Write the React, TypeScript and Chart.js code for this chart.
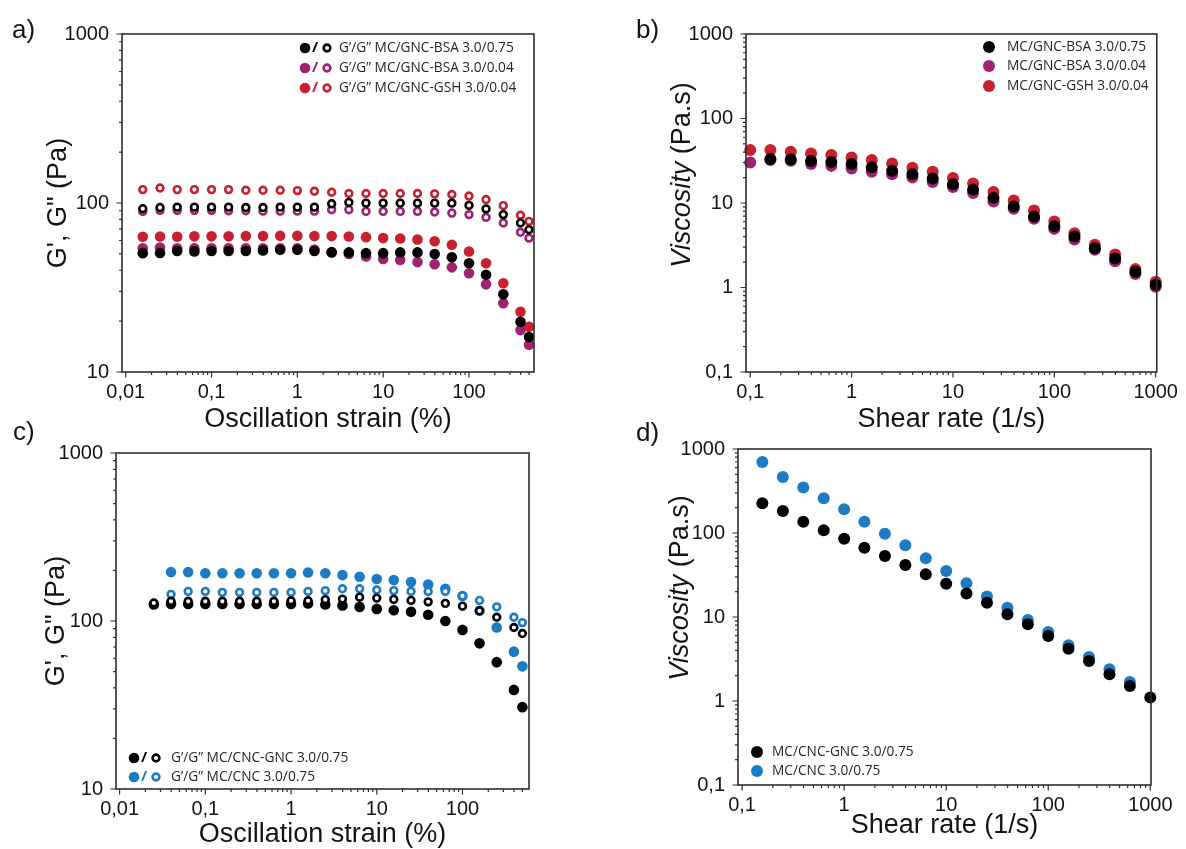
import React, { useEffect, useRef } from "react";
import { Chart, registerables } from "chart.js";
Chart.register(...registerables);

// ---------------- data ----------------
// a) amplitude sweeps, MC/GNC
const strainA = [0.0158, 0.0251, 0.0398, 0.0631, 0.1, 0.158, 0.251, 0.398, 0.631, 1, 1.58, 2.51, 3.98, 6.31, 10, 15.8, 25.1, 39.8, 63.1, 100, 158, 251, 398, 500];
const gPrimeA_BSA075 = [50.5, 50.6, 52.0, 51.7, 52.0, 52.0, 52.0, 52.3, 52.9, 52.9, 52.0, 51.2, 51.0, 50.5, 50.5, 51.0, 51.0, 49.9, 47.8, 44.0, 37.6, 28.8, 19.8, 16.1];
const gPrimeA_BSA004 = [54.0, 54.5, 54.0, 54.0, 54.0, 54.0, 54.0, 54.0, 54.0, 54.0, 53.0, 51.0, 49.9, 48.2, 46.7, 46.0, 44.7, 43.4, 41.6, 38.4, 33.0, 25.5, 17.7, 14.5];
const gPrimeA_GSH004 = [63.1, 63.4, 63.1, 63.5, 63.5, 63.5, 63.7, 63.7, 63.9, 63.9, 63.7, 63.7, 63.3, 62.8, 62.0, 61.6, 60.8, 59.4, 56.6, 51.6, 44.0, 33.5, 22.7, 18.5];
const gDoubleA_BSA075 = [92.5, 94.0, 94.5, 94.5, 94.5, 94.5, 94.0, 94.0, 94.5, 94.5, 94.5, 98.9, 100.8, 99.8, 99.8, 99.8, 99.8, 99.8, 99.8, 96.8, 92.3, 85.4, 76.2, 69.5];
const gDoubleA_BSA004 = [89.2, 90.5, 90.5, 90.5, 90.5, 90.0, 90.0, 89.5, 89.5, 89.5, 89.5, 91.3, 91.3, 89.2, 89.2, 89.2, 89.2, 88.4, 87.2, 85.4, 82.2, 76.2, 67.1, 62.0];
const gDoubleA_GSH004 = [120, 122.6, 120, 120, 120, 120, 118.9, 118.9, 118.9, 118.4, 117.3, 115.8, 113.8, 113.8, 113.8, 113.8, 113.8, 113.3, 112.3, 109.9, 104.8, 96.4, 84.6, 77.8];

// b) flow curves, MC/GNC
const shearB = [0.1, 0.158, 0.251, 0.398, 0.631, 1, 1.58, 2.51, 3.98, 6.31, 10, 15.8, 25.1, 39.8, 63.1, 100, 158, 251, 398, 631, 1000];
const viscB_BSA075 = [null, 33.1, 32.8, 31.4, 30.5, 28.9, 26.4, 24.0, 21.9, 19.5, 16.7, 14.4, 11.5, 9.12, 6.93, 5.32, 4.01, 2.91, 2.21, 1.54, 1.08];
const viscB_BSA004 = [30.2, 32.2, 31.6, 28.9, 27.5, 25.6, 23.4, 21.9, 20.0, 17.7, 15.5, 13.1, 10.4, 8.56, 6.5, 4.94, 3.7, 2.8, 2.04, 1.44, 1.02];
const viscB_GSH004 = [42.4, 42.4, 40.4, 38.6, 36.9, 34.6, 32.2, 29.4, 26.1, 23.4, 19.8, 17.0, 13.5, 10.7, 8.17, 6.05, 4.39, 3.2, 2.45, 1.65, 1.17];

// c) amplitude sweeps, MC/CNC
const strainC = [0.0251, 0.0398, 0.0631, 0.1, 0.158, 0.251, 0.398, 0.631, 1, 1.58, 2.51, 3.98, 6.31, 10, 15.8, 25.1, 39.8, 63.1, 100, 158, 251, 398, 500];
const gPrimeC_CNCGNC = [125.3, 126.4, 126.4, 126.4, 126.4, 126.4, 126.4, 126.4, 126.4, 127.3, 125.3, 123.6, 121.3, 118.0, 115.8, 113.5, 108.9, 100.0, 88.5, 73.6, 56.9, 38.9, 30.7];
const gDoubleC_CNCGNC = [128, 131, 131, 131, 131, 131, 131, 131, 132, 132, 134, 135, 138.6, 136.9, 134.4, 132.5, 130.0, 127.3, 122.5, 115.0, 105.3, 91.5, 84.2];
const gPrimeC_CNC = [null, 195.4, 195.4, 192.6, 192.6, 192.6, 192.6, 192.6, 192.6, 194.5, 192.6, 187.6, 183.3, 178.0, 175.2, 170.4, 164.8, 155.5, 141.0, 115.0, 91.5, 65.7, 53.7];
const gDoubleC_CNC = [null, 143.9, 150.0, 150.0, 148.0, 148.0, 148.0, 148.0, 148.0, 150.0, 151.6, 155.5, 155.5, 152.9, 151.6, 150.0, 149.9, 149.9, 141.0, 132.5, 121.3, 105.3, 97.8];

// d) flow curves, MC/CNC
const shearD = [0.158, 0.251, 0.398, 0.631, 1, 1.58, 2.51, 3.98, 6.31, 10, 15.8, 25.1, 39.8, 63.1, 100, 158, 251, 398, 631, 1000];
const viscD_CNCGNC = [225.5, 182.8, 136.4, 107.6, 85.6, 66.9, 53.2, 41.6, 32.2, 24.9, 19.1, 14.8, 10.8, 8.18, 5.94, 4.2, 2.99, 2.08, 1.51, 1.1];
const viscD_CNC = [700, 464, 347, 258.6, 191.4, 136.4, 98.2, 71.3, 49.9, 35.3, 25.2, 17.5, 12.9, 9.21, 6.63, 4.6, 3.34, 2.38, 1.68, null];

// tick labels
const strainTickValues = [0.01, 0.1, 1, 10, 100];
const strainTickLabels = ["0,01", "0,1", "1", "10", "100"];
const shearTickValues = [0.1, 1, 10, 100, 1000];
const shearTickLabels = ["0,1", "1", "10", "100", "1000"];
const modulusTickValues = [10, 100, 1000];
const modulusTickLabels = ["10", "100", "1000"];
const viscTickValues = [0.1, 1, 10, 100, 1000];
const viscTickLabels = ["0,1", "1", "10", "100", "1000"];

// legend texts
const legendA = ["G’/G” MC/GNC-BSA 3.0/0.75", "G’/G” MC/GNC-BSA 3.0/0.04", "G’/G” MC/GNC-GSH 3.0/0.04"];
const legendB = ["MC/GNC-BSA 3.0/0.75", "MC/GNC-BSA 3.0/0.04", "MC/GNC-GSH 3.0/0.04"];
const legendC = ["G’/G” MC/CNC-GNC 3.0/0.75", "G’/G” MC/CNC 3.0/0.75"];
const legendD = ["MC/CNC-GNC 3.0/0.75", "MC/CNC 3.0/0.75"];

// ---------------- styles ----------------
const BLACK = "#000000";
const PURPLE = "#a0216e";
const RED = "#c8202e";
const BLUE = "#1b7bc4";
const AXIS = "#2e2e2e";
const TEXT = "#141414";
const SANS = '"Liberation Sans", Arial, sans-serif';
const LEGEND_FONT = '13.7px "Open Sans", sans-serif';

type Series = { x: number[]; y: (number | null)[]; color: string; open: boolean };
type LegendRow = { color: string; text: string; y: number };
interface Panel {
  canvas: { left: number; top: number; width: number; height: number };
  area: { left: number; right: number; top: number; bottom: number };
  xRange: [number, number];
  yRange: [number, number];
  xTicks: number[];
  xLabels: string[];
  yTicks: number[];
  yLabels: string[];
  xTitle: string;
  xTitleBaseline: number;
  yTitle: { text: string; italic: boolean }[];
  yTitleBaseline: number;
  yTitleCenter: number;
  letter: string;
  letterX: number;
  letterY: number;
  pair: boolean;
  legend: LegendRow[];
  legendDotX: number;
  legendSlashX: number;
  legendOpenX: number;
  legendTextX: number;
  fillR: number;
  openR: number;
  openW: number;
  series: Series[];
}

const panels: Panel[] = [
  {
    canvas: { left: 0, top: 0, width: 600, height: 436 },
    area: { left: 122, right: 534, top: 34, bottom: 372 },
    xRange: [0.00905, 572],
    yRange: [10, 1000],
    xTicks: strainTickValues, xLabels: strainTickLabels,
    yTicks: modulusTickValues, yLabels: modulusTickLabels,
    xTitle: "Oscillation strain (%)", xTitleBaseline: 427,
    yTitle: [{ text: 'G\', G" (Pa)', italic: false }], yTitleBaseline: 66, yTitleCenter: 203,
    letter: "a)", letterX: 12, letterY: 38,
    pair: true,
    legend: [
      { color: BLACK, text: legendA[0], y: 48 },
      { color: PURPLE, text: legendA[1], y: 68 },
      { color: RED, text: legendA[2], y: 88 },
    ],
    legendDotX: 305, legendSlashX: 315, legendOpenX: 327, legendTextX: 339,
    fillR: 5.3, openR: 3.4, openW: 2.6,
    series: [
      { x: strainA, y: gPrimeA_BSA075, color: BLACK, open: false },
      { x: strainA, y: gPrimeA_BSA004, color: PURPLE, open: false },
      { x: strainA, y: gPrimeA_GSH004, color: RED, open: false },
      { x: strainA, y: gDoubleA_BSA075, color: BLACK, open: true },
      { x: strainA, y: gDoubleA_BSA004, color: PURPLE, open: true },
      { x: strainA, y: gDoubleA_GSH004, color: RED, open: true },
    ],
  },
  {
    canvas: { left: 600, top: 0, width: 586, height: 436 },
    area: { left: 746, right: 1160, top: 34, bottom: 372 },
    xRange: [0.0908, 1025],
    yRange: [0.1, 1000],
    xTicks: shearTickValues, xLabels: shearTickLabels,
    yTicks: viscTickValues, yLabels: viscTickLabels,
    xTitle: "Shear rate (1/s)", xTitleBaseline: 427,
    yTitle: [{ text: "Viscosity", italic: true }, { text: " (Pa.s)", italic: false }], yTitleBaseline: 690, yTitleCenter: 175,
    letter: "b)", letterX: 636, letterY: 38,
    pair: false,
    legend: [
      { color: BLACK, text: legendB[0], y: 47 },
      { color: PURPLE, text: legendB[1], y: 66 },
      { color: RED, text: legendB[2], y: 86 },
    ],
    legendDotX: 989, legendSlashX: 0, legendOpenX: 0, legendTextX: 1007,
    fillR: 6, openR: 3.4, openW: 2.6,
    series: [
      { x: shearB, y: viscB_BSA075, color: BLACK, open: false },
      { x: shearB, y: viscB_BSA004, color: PURPLE, open: false },
      { x: shearB, y: viscB_GSH004, color: RED, open: false },
    ],
  },
  {
    canvas: { left: 0, top: 420, width: 600, height: 429 },
    area: { left: 116, right: 529, top: 453, bottom: 789 },
    xRange: [0.00908, 597],
    yRange: [10, 1000],
    xTicks: strainTickValues, xLabels: strainTickLabels,
    yTicks: modulusTickValues, yLabels: modulusTickLabels,
    xTitle: "Oscillation strain (%)", xTitleBaseline: 842,
    yTitle: [{ text: 'G\', G" (Pa)', italic: false }], yTitleBaseline: 64, yTitleCenter: 621,
    letter: "c)", letterX: 13, letterY: 440,
    pair: true,
    legend: [
      { color: BLACK, text: legendC[0], y: 758 },
      { color: BLUE, text: legendC[1], y: 777 },
    ],
    legendDotX: 134, legendSlashX: 144, legendOpenX: 156, legendTextX: 171,
    fillR: 5.3, openR: 3.4, openW: 2.6,
    series: [
      { x: strainC, y: gDoubleC_CNCGNC, color: BLACK, open: true },
      { x: strainC, y: gDoubleC_CNC, color: BLUE, open: true },
      { x: strainC, y: gPrimeC_CNCGNC, color: BLACK, open: false },
      { x: strainC, y: gPrimeC_CNC, color: BLUE, open: false },
    ],
  },
  {
    canvas: { left: 600, top: 420, width: 586, height: 429 },
    area: { left: 738, right: 1151, top: 449, bottom: 785 },
    xRange: [0.0912, 1016],
    yRange: [0.1, 1000],
    xTicks: shearTickValues, xLabels: shearTickLabels,
    yTicks: viscTickValues, yLabels: viscTickLabels,
    xTitle: "Shear rate (1/s)", xTitleBaseline: 833,
    yTitle: [{ text: "Viscosity", italic: true }, { text: " (Pa.s)", italic: false }], yTitleBaseline: 688, yTitleCenter: 588,
    letter: "d)", letterX: 636, letterY: 441,
    pair: false,
    legend: [
      { color: BLACK, text: legendD[0], y: 752 },
      { color: BLUE, text: legendD[1], y: 771 },
    ],
    legendDotX: 757, legendSlashX: 0, legendOpenX: 0, legendTextX: 772,
    fillR: 6, openR: 3.4, openW: 2.6,
    series: [
      { x: shearD, y: viscD_CNCGNC, color: BLACK, open: false },
      { x: shearD, y: viscD_CNC, color: BLUE, open: false },
    ],
  },
];

function labelFor(values: number[], labels: string[], v: number) {
  const i = values.findIndex((t) => Math.abs(t - v) / t < 1e-6);
  return i >= 0 ? labels[i] : "";
}

function extrasPlugin(p: Panel) {
  return {
    id: "extras",
    afterDraw(chart: any) {
      const ctx: CanvasRenderingContext2D = chart.ctx;
      const ox = p.canvas.left;
      const oy = p.canvas.top;
      const { left, right, top, bottom } = chart.chartArea;
      const xs = chart.scales.x;
      const ys = chart.scales.y;
      ctx.save();
      // frame
      ctx.strokeStyle = AXIS;
      ctx.lineWidth = 1.6;
      ctx.strokeRect(left, top, right - left, bottom - top);
      // log ticks (major + minor), outward
      const eachLogTick = (min: number, max: number, cb: (v: number, major: boolean) => void) => {
        for (let e = Math.floor(Math.log10(min)); e <= Math.ceil(Math.log10(max)); e++) {
          for (let k = 1; k <= 9; k++) {
            const v = k * Math.pow(10, e);
            if (v >= min * 0.9999 && v <= max * 1.0001) cb(v, k === 1);
          }
        }
      };
      ctx.lineWidth = 1.2;
      ctx.beginPath();
      eachLogTick(xs.min, xs.max, (v, major) => {
        const px = xs.getPixelForValue(v);
        ctx.moveTo(px, bottom);
        ctx.lineTo(px, bottom + (major ? 5.5 : 3));
      });
      eachLogTick(ys.min, ys.max, (v, major) => {
        const py = ys.getPixelForValue(v);
        ctx.moveTo(left, py);
        ctx.lineTo(left - (major ? 5.5 : 3), py);
      });
      ctx.stroke();

      // axis titles
      ctx.fillStyle = TEXT;
      ctx.font = `27px ${SANS}`;
      ctx.textAlign = "center";
      ctx.textBaseline = "alphabetic";
      ctx.fillText(p.xTitle, (left + right) / 2, p.xTitleBaseline - oy);

      ctx.save();
      ctx.translate(p.yTitleBaseline - ox, p.yTitleCenter - oy);
      ctx.rotate(-Math.PI / 2);
      ctx.textAlign = "left";
      const fonts = p.yTitle.map((part) => `${part.italic ? "italic " : ""}27px ${SANS}`);
      let total = 0;
      const widths = p.yTitle.map((part, i) => {
        ctx.font = fonts[i];
        const w = ctx.measureText(part.text).width;
        total += w;
        return w;
      });
      let cur = -total / 2;
      p.yTitle.forEach((part, i) => {
        ctx.font = fonts[i];
        ctx.fillText(part.text, cur, 0);
        cur += widths[i];
      });
      ctx.restore();

      // panel letter
      ctx.font = `26px ${SANS}`;
      ctx.textAlign = "left";
      ctx.fillStyle = TEXT;
      ctx.fillText(p.letter, p.letterX - ox, p.letterY - oy);

      // legend
      p.legend.forEach((row) => {
        const cy = row.y - oy;
        ctx.fillStyle = row.color;
        ctx.beginPath();
        ctx.arc(p.legendDotX - ox, cy, p.fillR, 0, Math.PI * 2);
        ctx.fill();
        if (p.pair) {
          ctx.font = `bold 15px "Open Sans", sans-serif`;
          ctx.textAlign = "center";
          ctx.textBaseline = "middle";
          ctx.fillText("/", p.legendSlashX - ox, cy);
          ctx.strokeStyle = row.color;
          ctx.lineWidth = p.openW;
          ctx.fillStyle = "#ffffff";
          ctx.beginPath();
          ctx.arc(p.legendOpenX - ox, cy, p.openR, 0, Math.PI * 2);
          ctx.fill();
          ctx.stroke();
        }
        ctx.fillStyle = "#262626";
        ctx.font = LEGEND_FONT;
        ctx.textAlign = "left";
        ctx.textBaseline = "middle";
        ctx.fillText(row.text, p.legendTextX - ox, cy + 0.5);
      });
      ctx.restore();
    },
  };
}

function buildConfig(p: Panel): any {
  const datasets = p.series.map((s) => ({
    data: s.x
      .map((xv, i) => ({ x: xv, y: s.y[i] }))
      .filter((d) => d.y !== null && d.y !== undefined),
    showLine: false,
    clip: false,
    pointRadius: s.open ? p.openR : p.fillR,
    pointHoverRadius: s.open ? p.openR : p.fillR,
    pointBorderWidth: s.open ? p.openW : 0,
    pointHoverBorderWidth: s.open ? p.openW : 0,
    pointBackgroundColor: s.open ? "#ffffff" : s.color,
    pointBorderColor: s.color,
    backgroundColor: s.open ? "#ffffff" : s.color,
    borderColor: s.color,
  }));
  const tickFont = { family: SANS, size: 20 };
  return {
    type: "scatter",
    data: { datasets },
    options: {
      animation: false,
      responsive: false,
      devicePixelRatio: 1,
      events: [],
      layout: {
        padding: {
          left: 0,
          top: p.area.top - p.canvas.top,
          right: p.canvas.left + p.canvas.width - p.area.right,
          bottom: 0,
        },
      },
      plugins: { legend: { display: false }, tooltip: { enabled: false }, title: { display: false } },
      scales: {
        x: {
          type: "logarithmic",
          position: "bottom",
          min: p.xRange[0],
          max: p.xRange[1],
          afterBuildTicks: (scale: any) => {
            scale.ticks = p.xTicks.map((v) => ({ value: v }));
          },
          afterFit: (scale: any) => {
            scale.height = p.canvas.top + p.canvas.height - p.area.bottom;
          },
          grid: { display: false, drawTicks: false },
          border: { display: false },
          ticks: {
            autoSkip: false,
            maxRotation: 0,
            minRotation: 0,
            padding: 8,
            color: TEXT,
            font: tickFont,
            callback: (v: any) => labelFor(p.xTicks, p.xLabels, Number(v)),
          },
        },
        y: {
          type: "logarithmic",
          position: "left",
          min: p.yRange[0],
          max: p.yRange[1],
          afterBuildTicks: (scale: any) => {
            scale.ticks = p.yTicks.map((v) => ({ value: v }));
          },
          afterFit: (scale: any) => {
            scale.width = p.area.left - p.canvas.left;
          },
          grid: { display: false, drawTicks: false },
          border: { display: false },
          ticks: {
            autoSkip: false,
            padding: 13,
            color: TEXT,
            font: tickFont,
            callback: (v: any) => labelFor(p.yTicks, p.yLabels, Number(v)),
          },
        },
      },
    },
    plugins: [extrasPlugin(p)],
  };
}

function PanelChart({ p }: { p: Panel }) {
  const ref = useRef<HTMLCanvasElement>(null);
  useEffect(() => {
    if (!ref.current) return;
    const chart = new Chart(ref.current, buildConfig(p));
    return () => chart.destroy();
  }, [p]);
  return (
    <canvas
      ref={ref}
      width={p.canvas.width}
      height={p.canvas.height}
      style={{
        position: "absolute",
        left: p.canvas.left,
        top: p.canvas.top,
        width: p.canvas.width,
        height: p.canvas.height,
        display: "block",
      }}
    />
  );
}

export default function App() {
  return (
    <div
      style={{
        position: "absolute",
        left: 0,
        top: 0,
        width: 1186,
        height: 849,
        background: "#ffffff",
        overflow: "hidden",
      }}
    >
      {panels.map((p, i) => (
        <PanelChart key={i} p={p} />
      ))}
    </div>
  );
}
